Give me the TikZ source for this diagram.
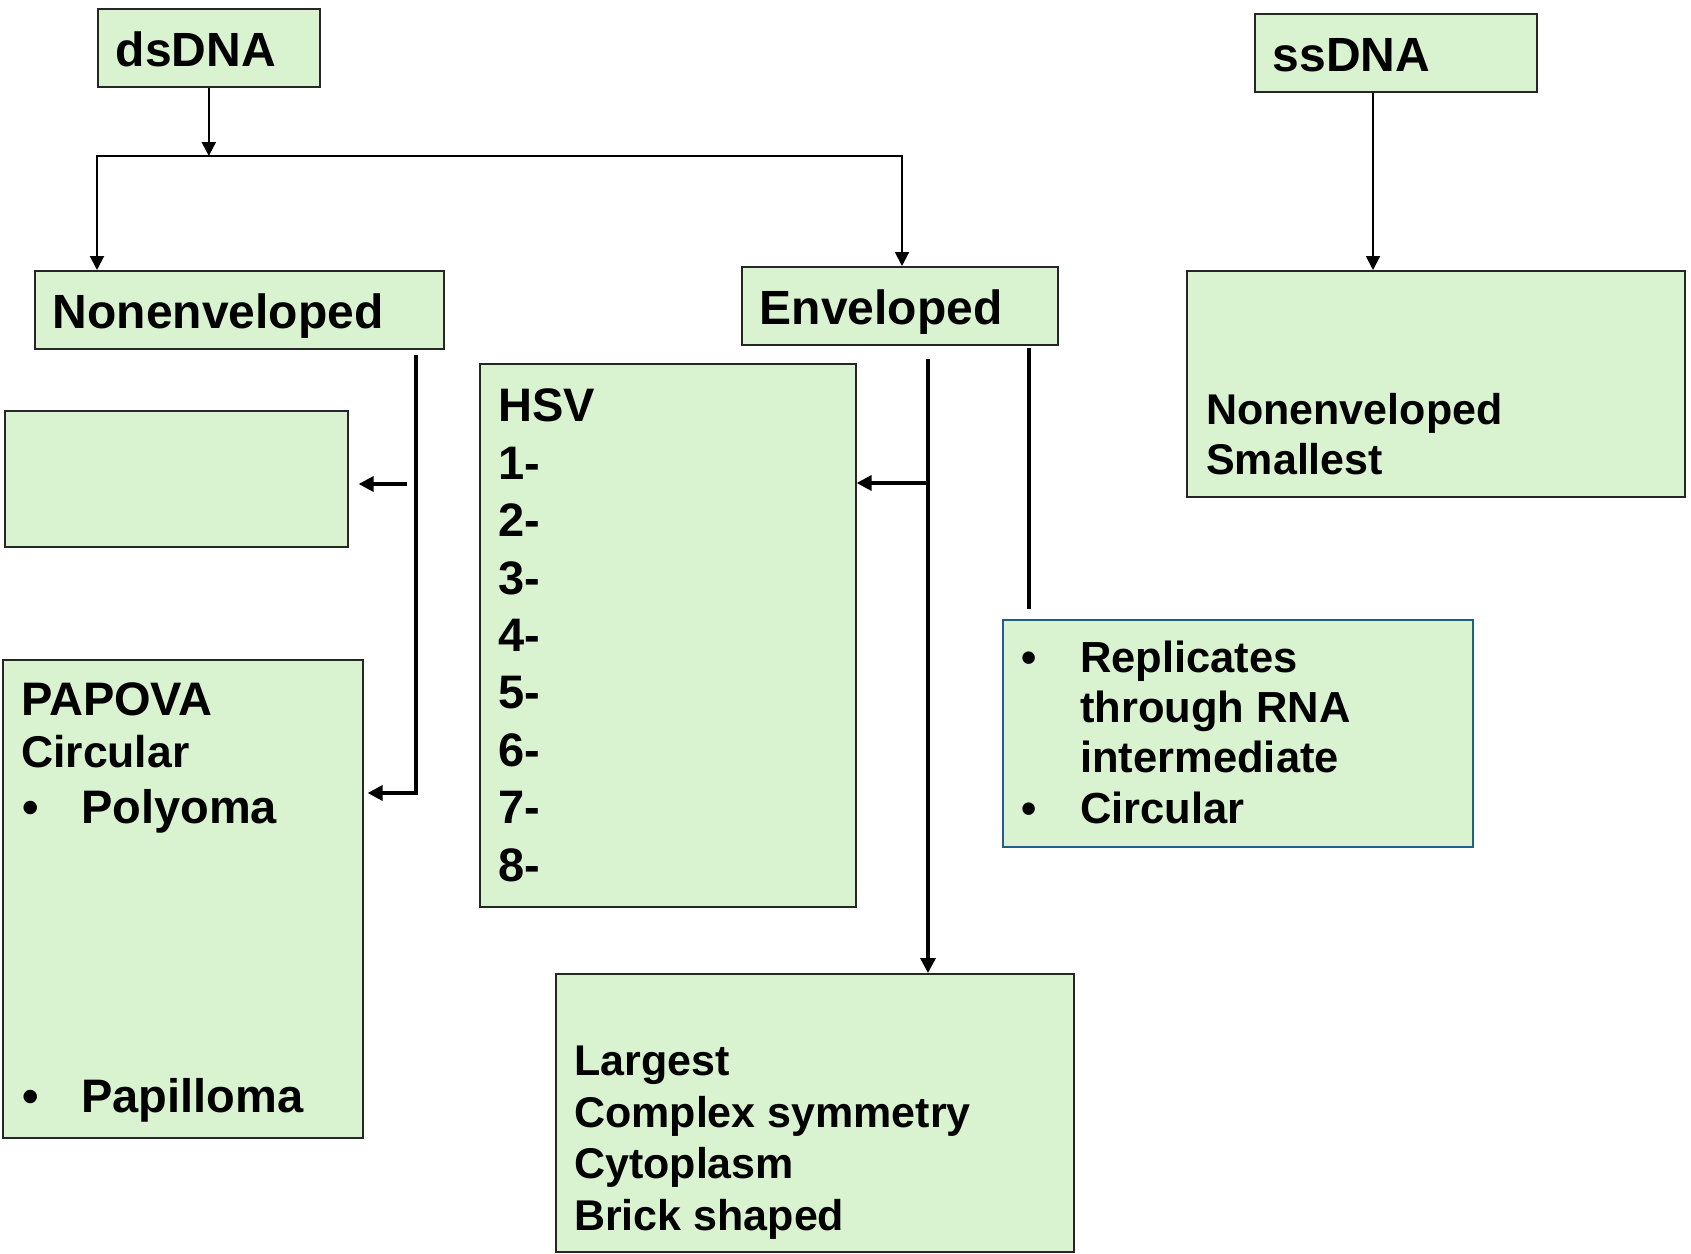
\documentclass[tikz,border=0pt]{standalone}
\usepackage{fontspec}
\setmainfont{Liberation Sans}
\usepackage{xcolor}
\usepackage{tikz}
\usetikzlibrary{arrows.meta}
\definecolor{boxfill}{HTML}{D9F2D0}
\definecolor{boxline}{HTML}{262626}
\definecolor{blueline}{HTML}{1F5F8B}
\newcommand{\fsz}[2]{\fontsize{#1}{#2}\selectfont}
\tikzset{
  box/.style={draw=boxline, fill=boxfill, line width=1.6pt, anchor=north west, inner sep=0pt},
  title/.style={box, minimum height=78pt, inner xsep=18pt, inner ysep=0pt, align=left,
    text height=38pt, text depth=0pt, font=\fsz{48}{58}\bfseries},
  body/.style={anchor=base west, inner sep=0pt, align=left},
  link/.style={line width=2pt, draw=black},
  linkarr/.style={link, -{Triangle[length=14pt,width=14pt]}},
  twoarr/.style={link, {Triangle[length=14pt,width=14pt]}-{Triangle[length=14pt,width=14pt]}},
  branch/.style={line width=3.4pt, draw=black},
  brancharr/.style={branch, -{Triangle[length=15pt,width=15pt]}}
}

\begin{document}
\begin{tikzpicture}[x=1pt,y=-1pt]
  \useasboundingbox (0,0) rectangle (1691,1253);

  % header boxes
  \node[title, text width=186pt] (dsdna) at (97,8) {dsDNA};
  \node[title, text width=373pt] (nonenv) at (34,270) {Nonenveloped};
  \node[title, text width=280pt] (env) at (741,266) {Enveloped};
  \node[title, text width=246pt] (ssdna) at (1254,13) {ssDNA};

  % content boxes
  \node[box, minimum width=498pt, minimum height=226pt] (ssbox) at (1186,270) {};
  \node[box, minimum width=343pt, minimum height=136pt] (blank) at (4,410) {};
  \node[box, minimum width=360pt, minimum height=478pt] (papova) at (2,659) {};
  \node[box, minimum width=376pt, minimum height=543pt] (hsv) at (479,363) {};
  \node[box, minimum width=518pt, minimum height=278pt] (pox) at (555,973) {};
  \node[box, draw=blueline, minimum width=470pt, minimum height=227pt] (hepadna) at (1002,619) {};

  % texts (base = last line)
  \node[body, font=\fsz{43}{50}\bfseries] (ssbox-t) at (1206,474) {Nonenveloped\\Smallest};
  \node[body, font=\fsz{47}{52}\bfseries] (papova-t) at (21,715) {PAPOVA};
  \node[body, font=\fsz{44.5}{52}\bfseries] (circ-t) at (21,767) {Circular};
  \node[body, font=\fsz{47}{56}\bfseries] (polyoma-t) at (22,823) {\makebox[59pt][l]{\textbullet}Polyoma};
  \node[body, font=\fsz{47}{56}\bfseries] (papilloma-t) at (22,1112) {\makebox[59pt][l]{\textbullet}Papilloma};
  \node[body, font=\fsz{47}{57.4}\bfseries] (hsv-t) at (498,881) {HSV\\1-\\2-\\3-\\4-\\5-\\6-\\7-\\8-};
  \node[body, font=\fsz{43}{51.5}\bfseries] (pox-t) at (574,1230) {Largest\\Complex symmetry\\Cytoplasm\\Brick shaped};
  \node[body, font=\fsz{43.5}{50.3}\bfseries] (hepadna-t) at (1021,823)
    {\makebox[59pt][l]{\textbullet}Replicates\\\hspace*{59pt}through RNA\\\hspace*{59pt}intermediate\\\makebox[59pt][l]{\textbullet}Circular};

  % connectors
  \coordinate (bar-l) at (97,156);
  \coordinate (bar-r) at (902,156);
  \coordinate (ss-x) at (1373,0);
  \draw[linkarr] (dsdna.south) -- (dsdna.south |- bar-l);
  \draw[twoarr] (nonenv.north -| bar-l) -- (bar-l) -- (bar-r) -- (env.north -| bar-r);
  \draw[linkarr] (ssdna.south -| ss-x) -- (ssbox.north -| ss-x);

  \coordinate (nb-top) at (416,355);
  \coordinate (nb-bot) at (416,793);
  \coordinate (nb-mid) at (407,484);
  \draw[brancharr] (nb-top) -- (nb-bot) -- ([xshift=4pt]papova.east |- nb-bot);
  \draw[brancharr] (nb-mid) -- ([xshift=10pt]blank.east |- nb-mid);

  \coordinate (eb-top) at (928,359);
  \coordinate (eb-mid) at (928,483);
  \coordinate (hb-top) at (1029,348);
  \draw[brancharr] (eb-top) -- (eb-top |- pox.north);
  \draw[brancharr] (eb-mid) -- (hsv.east |- eb-mid);
  \draw[branch, line width=4.4pt, shorten >=10pt] (hb-top) -- (hb-top |- hepadna.north);
\end{tikzpicture}
\end{document}
